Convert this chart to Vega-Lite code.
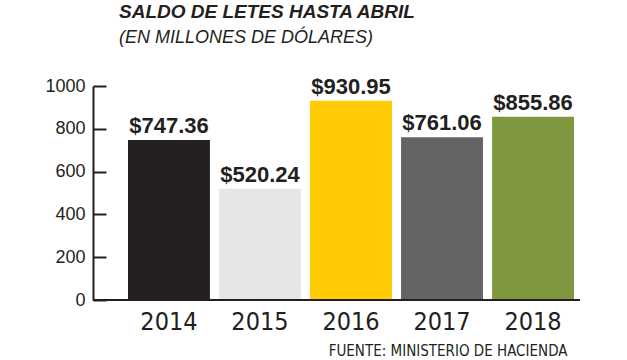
{
  "$schema": "https://vega.github.io/schema/vega-lite/v6.json",
  "autosize": "none",
  "width": 487,
  "height": 214,
  "padding": {"left": 93, "top": 86, "right": 47, "bottom": 60},
  "background": "white",
  "title": {
    "text": "SALDO DE LETES HASTA ABRIL",
    "subtitle": "(EN MILLONES DE DÓLARES)",
    "anchor": "start",
    "frame": "group",
    "dx": 26,
    "offset": 29,
    "font": "Liberation Sans",
    "fontSize": 19,
    "fontWeight": "bold",
    "fontStyle": "italic",
    "color": "#231f20",
    "subtitleFont": "Liberation Sans",
    "subtitleFontSize": 18,
    "subtitleFontStyle": "italic",
    "subtitleColor": "#231f20",
    "subtitlePadding": 7
  },
  "data": {
    "values": [
      {"year": "2014", "value": 747.36},
      {"year": "2015", "value": 520.24},
      {"year": "2016", "value": 930.95},
      {"year": "2017", "value": 761.06},
      {"year": "2018", "value": 855.86}
    ]
  },
  "config": {"view": {"stroke": null}},
  "layer": [
    {
      "mark": {"type": "bar"},
      "encoding": {
        "x": {
          "field": "year",
          "type": "nominal",
          "sort": null,
          "scale": {"range": [35, 481], "paddingInner": 0.1, "paddingOuter": 0},
          "axis": {
            "domain": false,
            "ticks": false,
            "labelAngle": 0,
            "labelFont": "DejaVu Sans Condensed, DejaVu Sans",
            "labelFontSize": 25,
            "labelColor": "#231f20",
            "labelPadding": 9,
            "title": "FUENTE: MINISTERIO DE HACIENDA",
            "titleFont": "DejaVu Sans Condensed, DejaVu Sans",
            "titleFontSize": 15,
            "titleFontWeight": "normal",
            "titleColor": "#231f20",
            "titleAnchor": "end",
            "titleAlign": "right",
            "titleX": 474,
            "titlePadding": 9
          }
        },
        "y": {
          "field": "value",
          "type": "quantitative",
          "scale": {"domain": [0, 1000]},
          "axis": {
            "values": [0, 200, 400, 600, 800, 1000],
            "format": "d",
            "grid": false,
            "title": null,
            "domainColor": "#231f20",
            "domainWidth": 2,
            "tickColor": "#231f20",
            "tickWidth": 2,
            "tickSize": -13,
            "labelFont": "Liberation Sans",
            "labelFontSize": 18,
            "labelColor": "#231f20",
            "labelPadding": 21
          }
        },
        "color": {
          "field": "year",
          "type": "nominal",
          "scale": {
            "domain": ["2014", "2015", "2016", "2017", "2018"],
            "range": ["#231f20", "#e6e6e7", "#ffcb05", "#636466", "#7f983f"]
          },
          "legend": null
        }
      }
    },
    {
      "mark": {"type": "text", "baseline": "alphabetic", "dy": -7, "font": "Liberation Sans", "fontSize": 22, "fontWeight": "bold", "color": "#231f20"},
      "encoding": {
        "x": {"field": "year", "type": "nominal", "sort": null},
        "y": {"field": "value", "type": "quantitative"},
        "text": {"field": "value", "type": "quantitative", "format": "$.2f"}
      }
    },
    {
      "mark": {"type": "rule", "color": "#231f20", "strokeWidth": 2},
      "encoding": {"y": {"datum": 0}}
    }
  ]
}
